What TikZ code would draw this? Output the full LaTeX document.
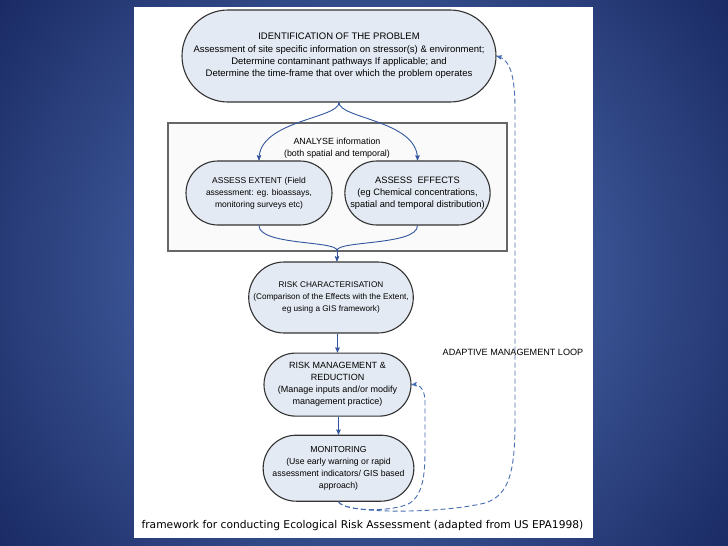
\documentclass[tikz,border=0pt]{standalone}
\usepackage{fontspec}
\setmainfont{Liberation Sans}
\newfontfamily\captionfont{DejaVu Sans}
\usetikzlibrary{arrows,positioning,shapes.misc}
\definecolor{bgin}{RGB}{88,122,190}
\definecolor{bgout}{RGB}{24,40,98}
\definecolor{stagefill}{RGB}{228,234,243}
\definecolor{flowblue}{RGB}{50,86,158}
\definecolor{loopblue}{RGB}{72,110,178}
\newcommand{\sizept}[1]{\fontsize{#1}{12}\selectfont}
\tikzset{
    %Define standard arrow tip
    >=stealth',
    stage/.style={
      rounded rectangle,
      draw=black!80, line width=1.1pt,
      fill=stagefill,
      inner sep=1pt,
      align=center,
      font=\sizept{8.7}},
    framebox/.style={
      rectangle,
      draw=black!60, line width=1.1pt,
      fill=black!2},
    plaintext/.style={
      align=center,
      font=\sizept{8.9}},
    flow/.style={
      draw=flowblue, line width=0.9pt},
    feedback/.style={
      draw=loopblue, line width=0.9pt,
      dash pattern=on 5pt off 3pt}
}
\begin{document}
\begin{tikzpicture}[x=1pt,y=1pt]
    \useasboundingbox (0,0) rectangle (728,-546);
    \begin{scope}
      \clip (0,0) rectangle (728,-546);
      \shade[inner color=bgin, outer color=bgout] (364,-273) circle (470pt);
    \end{scope}
    \fill[white] (134,-7) rectangle (593,-538);

    % analysis frame
    \node (analyse) [framebox, minimum width=339pt, minimum height=128pt]
          at (337.5,-187) {};
    \node (analysetext) [plaintext] at (337,-148)
          {ANALYSE information\\(both spatial and temporal)};

    \node (problem) [stage, minimum width=316pt, minimum height=92pt,
                     font=\fontsize{9.5}{12.4}\selectfont]
          at (339,-56)
          {IDENTIFICATION OF THE PROBLEM\\
           Assessment of site specific information on stressor(s) \& environment;\\
           Determine contaminant pathways If applicable; and\\
           Determine the time-frame that over which the problem operates};
    \node (extent) [stage, minimum width=148pt, minimum height=64pt, font=\sizept{8.5}]
          at (259,-193)
          {ASSESS EXTENT (Field\\assessment: eg. bioassays,\\monitoring surveys etc)};
    \node (effects) [stage, minimum width=145pt, minimum height=64pt, font=\sizept{9.3}]
          at (417.5,-193)
          {ASSESS\ \ EFFECTS\\(eg Chemical concentrations,\\spatial and temporal distribution)};
    \node (riskchar) [stage, minimum width=156pt, minimum height=71pt, font=\sizept{8.2}]
          at (331,-297.5)
          {RISK CHARACTERISATION\\(Comparison of the Effects with the Extent,\\eg using a GIS framework)};
    \node (riskman) [stage, minimum width=149pt, minimum height=63pt, font=\sizept{9}]
          [below=19pt of riskchar, xshift=6.5pt]
          {RISK MANAGEMENT \&\\REDUCTION\\(Manage inputs and/or modify\\management practice)};
    \node (monitor) [stage, minimum width=147pt, minimum height=66pt]
          [below=18pt of riskman, xshift=1pt]
          {MONITORING\\(Use early warning or rapid\\assessment indicators/ GIS based\\approach)};
    \coordinate (merge) at (337,-250.5);

    % main flow
    \draw[flow,->] (problem.south) .. controls +(0,-16) and +(0,40) .. (extent.north);
    \draw[flow,->] (problem.south) .. controls +(0,-16) and +(0,40) .. (effects.north);
    \draw[flow] (extent.south) .. controls +(0,-20) and +(0,10) .. (merge);
    \draw[flow] (effects.south) .. controls +(0,-20) and +(0,10) .. (merge);
    \draw[flow,->] (merge) -- (merge |- riskchar.north);
    \draw[flow,->] (riskman.north |- riskchar.south) -- (riskman.north);
    \draw[flow,->] (monitor.north |- riskman.south) -- (monitor.north);

    % adaptive loops
    \draw[feedback,->] (monitor.south)
          .. controls (343,-514) and (440,-514) .. (485,-503)
          .. controls (510,-495) and (515,-470) .. (515,-420)
          -- (515,-110)
          .. controls (515,-75) and (510,-60) .. (problem.east);
    \draw[feedback,->] (monitor.south)
          .. controls (345,-512) and (395,-512) .. (410,-503)
          .. controls (423,-494) and (425,-475) .. (425,-450)
          -- (425,-402)
          .. controls (425,-390) and (420,-384) .. (riskman.east);
    \node (looplabel) [plaintext, font=\sizept{9.1}] at (513,-352) {ADAPTIVE MANAGEMENT LOOP};

    \node (caption) [anchor=west, font=\captionfont\fontsize{10.7}{13}\selectfont]
          at (138,-526)
          {framework for conducting Ecological Risk Assessment (adapted from US EPA1998)};
\end{tikzpicture}
\end{document}
